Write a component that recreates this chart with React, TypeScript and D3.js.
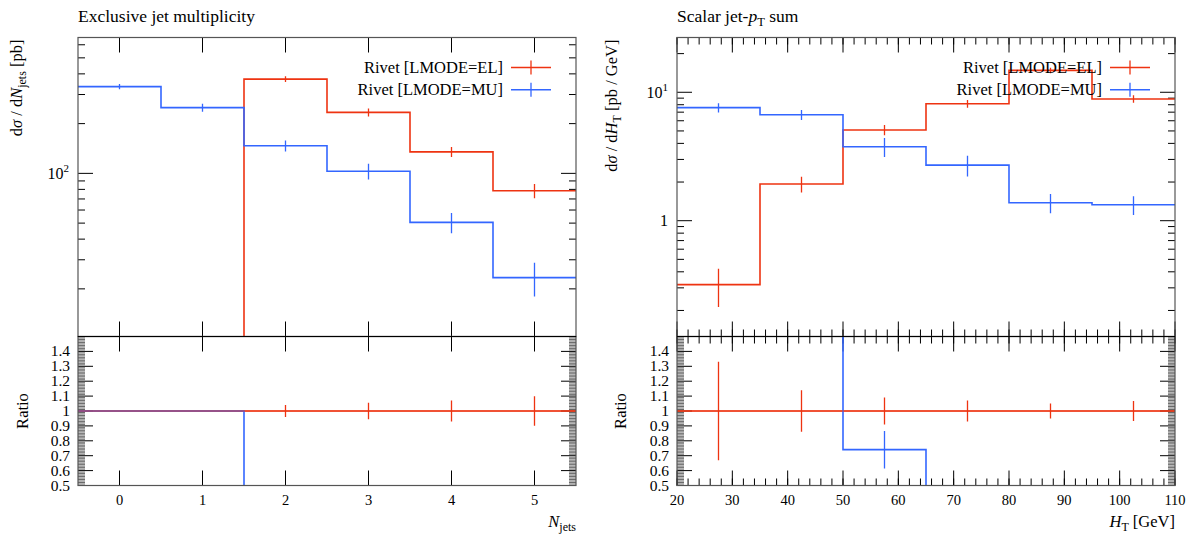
import * as d3 from "d3";

const RED = "#ee3311";
const BLUE = "#3366ff";
const FONT = "'Liberation Serif', 'Times New Roman', serif";

// Exclusive jet multiplicity
const njetsEdges = [-0.5, 0.5, 1.5, 2.5, 3.5, 4.5, 5.5];
const njetsTicks = [0, 1, 2, 3, 4, 5];
const njetsEL = [0, 0, 372, 234, 135, 78.5];
const njetsELErr = [0, 0, 15, 13, 9.5, 7.8];
const njetsMU = [335, 250, 147, 103, 50.5, 23.4];
const njetsMUErr = [12, 14, 11.3, 11.3, 7.1, 5.4];
const njetsYDomain = [10.3, 664];
const njetsYLabels = [{ value: 100, base: "10", exp: "2" }];

// Scalar jet-pT sum
const htEdges = [20, 35, 50, 65, 80, 95, 110];
const htTicks = [20, 30, 40, 50, 60, 70, 80, 90, 100, 110];
const htEL = [0.318, 1.93, 5.09, 8.15, 14.8, 8.87];
const htELErr = [0.105, 0.27, 0.46, 0.57, 0.74, 0.59];
const htMU = [7.59, 6.69, 3.77, 2.71, 1.38, 1.33];
const htMUErr = [0.64, 0.6, 0.64, 0.5, 0.235, 0.22];
const htYDomain = [0.1254, 26.7];
const htYLabels = [
  { value: 1, base: "1", exp: "" },
  { value: 10, base: "10", exp: "1" },
];

const ratioLabels = [0.5, 0.6, 0.7, 0.8, 0.9, 1, 1.1, 1.2, 1.3, 1.4];
const legendNames = ["Rivet [LMODE=EL]", "Rivet [LMODE=MU]"];

const TOP = 37.5;
const MAIN_H = 299;
const RATIO_H = 149;
const W = 498;
const MAJOR = 15;
const MINOR = 7;

function stepPath(edges, vals, yf) {
  const pts = vals.flatMap((v, i) => [
    [edges[i], yf(v)],
    [edges[i + 1], yf(v)],
  ]);
  return pts;
}

function Panel({ id, left, title, edges, xTicks, xMinor, el, elErr, mu, muErr, yDomain, yLabels, xLabel, yLabel, yLabelX, ratioLabelX }) {
  const x = d3.scaleLinear().domain([edges[0], edges[edges.length - 1]]).range([0, W]);
  const y = d3.scaleLog().domain(yDomain).range([MAIN_H, 0]);
  const r = d3.scaleLinear().domain([0.5, 1.5]).range([RATIO_H, 0]);
  const clampM = (v) => (v > 0 ? Math.max(-20, Math.min(MAIN_H + 20, y(v))) : MAIN_H + 20);
  const clampR = (v) => Math.max(-20, Math.min(RATIO_H + 20, r(v)));
  const line = d3.line();
  const centers = edges.slice(0, -1).map((e, i) => (e + edges[i + 1]) / 2);

  const toPx = (pts) => pts.map(([a, b]) => [x(a), b]);

  const rEL = el.map(() => 1);
  const rELErr = el.map((v, i) => (v > 0 ? elErr[i] / v : 0));
  const rMU = mu.map((v, i) => (el[i] > 0 ? v / el[i] : 1));
  const rMUErr = mu.map((v, i) => (el[i] > 0 ? muErr[i] / el[i] : 0));

  const yTicks = y.ticks();
  const ratioTicks = d3.range(0, 101).map((k) => ({ v: 0.5 + k * 0.01, major: k % 10 === 0 }));

  const xTickMarks = (h) => (
    <>
      {xMinor.map((t) => (
        <g key={`mn-${t}`}>
          <line x1={x(t)} x2={x(t)} y1={0} y2={MINOR} stroke="#000" />
          <line x1={x(t)} x2={x(t)} y1={h} y2={h - MINOR} stroke="#000" />
        </g>
      ))}
      {xTicks.map((t) => (
        <g key={`mj-${t}`}>
          <line x1={x(t)} x2={x(t)} y1={0} y2={MAJOR} stroke="#000" />
          <line x1={x(t)} x2={x(t)} y1={h} y2={h - MAJOR} stroke="#000" />
        </g>
      ))}
    </>
  );

  const errBars = (vals, errs, yf, color, key) =>
    vals.map((v, i) =>
      errs[i] > 0 && v > 0 ? (
        <line
          key={`${key}-${i}`}
          x1={x(centers[i])}
          x2={x(centers[i])}
          y1={yf(v - errs[i])}
          y2={yf(v + errs[i])}
          stroke={color}
          strokeWidth={1.3}
        />
      ) : null
    );

  return (
    <g transform={`translate(${left},0)`} fontFamily={FONT}>
      <text x={0} y={22} fontSize={17.5}>{title}</text>
      <defs>
        <clipPath id={`${id}-main`}>
          <rect x={0} y={0} width={W} height={MAIN_H} />
        </clipPath>
        <clipPath id={`${id}-ratio`}>
          <rect x={0} y={0} width={W} height={RATIO_H} />
        </clipPath>
      </defs>

      {/* main panel */}
      <g transform={`translate(0,${TOP})`}>
        {xTickMarks(MAIN_H)}
        {yTicks.map((t) => {
          const major = Math.abs(Math.log10(t) - Math.round(Math.log10(t))) < 1e-6;
          const len = major ? MAJOR : MINOR;
          return (
            <g key={`yt-${t}`}>
              <line x1={0} x2={len} y1={y(t)} y2={y(t)} stroke="#000" />
              <line x1={W} x2={W - len} y1={y(t)} y2={y(t)} stroke="#000" />
            </g>
          );
        })}
        {yLabels.map((l) => (
          <text key={`yl-${l.value}`} x={-9} y={y(l.value) + 5.5} textAnchor="end" fontSize={16}>
            {l.base}
            {l.exp ? (
              <tspan dy={-7} fontSize={11}>{l.exp}</tspan>
            ) : null}
          </text>
        ))}
        <g clipPath={`url(#${id}-main)`} fill="none">
          <path d={line(toPx(stepPath(edges, el, clampM)))} stroke={RED} strokeWidth={1.6} />
          {errBars(el, elErr, (v) => (v > 0 ? y(v) : MAIN_H + 20), RED, "ee")}
          <path d={line(toPx(stepPath(edges, mu, clampM)))} stroke={BLUE} strokeWidth={1.6} />
          {errBars(mu, muErr, (v) => (v > 0 ? y(v) : MAIN_H + 20), BLUE, "me")}
        </g>
        {/* legend */}
        {legendNames.map((name, i) => {
          const ly = 30 + i * 22.3;
          const c = i === 0 ? RED : BLUE;
          return (
            <g key={name}>
              <text x={W - 73} y={ly + 5.5} textAnchor="end" fontSize={16.5}>{name}</text>
              <line x1={W - 65} x2={W - 25} y1={ly} y2={ly} stroke={c} strokeWidth={1.6} />
              <line x1={W - 45} x2={W - 45} y1={ly - 7} y2={ly + 7} stroke={c} strokeWidth={1.3} />
            </g>
          );
        })}
        <rect x={0} y={0} width={W} height={MAIN_H} fill="none" stroke="#555" strokeWidth={1.2} />
        <text transform={`translate(${yLabelX},2) rotate(-90)`} textAnchor="end" fontSize={16.5}>
          {yLabel}
        </text>
      </g>

      {/* ratio panel */}
      <g transform={`translate(0,${TOP + MAIN_H})`}>
        {xTickMarks(RATIO_H)}
        {ratioTicks.map((t) => {
          const len = t.major ? MAJOR : MINOR;
          return (
            <g key={`rt-${t.v.toFixed(2)}`}>
              <line x1={0} x2={len} y1={r(t.v)} y2={r(t.v)} stroke="#000" strokeWidth={t.major ? 1 : 0.6} />
              <line x1={W} x2={W - len} y1={r(t.v)} y2={r(t.v)} stroke="#000" strokeWidth={t.major ? 1 : 0.6} />
            </g>
          );
        })}
        {ratioLabels.map((v) => (
          <text key={`rl-${v}`} x={-8} y={r(v) + 5} textAnchor="end" fontSize={15.5}>
            {String(v)}
          </text>
        ))}
        <g clipPath={`url(#${id}-ratio)`} fill="none">
          <path d={line(toPx(stepPath(edges, rEL, clampR)))} stroke={RED} strokeWidth={1.6} />
          {errBars(rEL, rELErr, r, RED, "re")}
          <path d={line(toPx(stepPath(edges, rMU, clampR)))} stroke={BLUE} strokeWidth={1.6} />
          {errBars(rMU, rMUErr, r, BLUE, "rm")}
          <path d={line(toPx(stepPath(edges, rEL, clampR)))} stroke={RED} strokeWidth={1.6} strokeOpacity={0.5} />
        </g>
        <rect x={0} y={0} width={W} height={RATIO_H} fill="none" stroke="#555" strokeWidth={1.2} />
        <line x1={0} x2={W} y1={0} y2={0} stroke="#000" strokeWidth={1.2} />
        <text transform={`translate(${ratioLabelX},${r(1)}) rotate(-90)`} textAnchor="middle" fontSize={16.5}>
          Ratio
        </text>
        {xTicks.map((t) => (
          <text key={`xl-${t}`} x={x(t)} y={RATIO_H + 19} textAnchor="middle" fontSize={14.5}>
            {t}
          </text>
        ))}
        <text x={W} y={RATIO_H + 41} textAnchor="end" fontSize={16.5}>
          {xLabel}
        </text>
      </g>
    </g>
  );
}

export default function App() {
  return (
    <svg width={1195} height={534} style={{ position: "absolute", left: 0, top: 0, background: "#fff" }}>
      <Panel
        id="njets"
        left={78}
        title="Exclusive jet multiplicity"
        edges={njetsEdges}
        xTicks={njetsTicks}
        xMinor={[]}
        el={njetsEL}
        elErr={njetsELErr}
        mu={njetsMU}
        muErr={njetsMUErr}
        yDomain={njetsYDomain}
        yLabels={njetsYLabels}
        yLabelX={-56}
        ratioLabelX={-50}
        yLabel={
          <>
            d<tspan fontStyle="italic">σ</tspan> / d<tspan fontStyle="italic">N</tspan>
            <tspan fontSize={12} dy={4}>jets</tspan>
            <tspan dy={-4}> [pb]</tspan>
          </>
        }
        xLabel={
          <>
            <tspan fontStyle="italic">N</tspan>
            <tspan fontSize={12} dy={4}>jets</tspan>
          </>
        }
      />
      <Panel
        id="ht"
        left={677}
        title={
          <>
            Scalar jet-<tspan fontStyle="italic">p</tspan>
            <tspan fontSize={12.5} dy={4}>T</tspan>
            <tspan dy={-4}> sum</tspan>
          </>
        }
        edges={htEdges}
        xTicks={htTicks}
        xMinor={d3.range(20, 111, 2)}
        el={htEL}
        elErr={htELErr}
        mu={htMU}
        muErr={htMUErr}
        yDomain={htYDomain}
        yLabels={htYLabels}
        yLabelX={-60}
        ratioLabelX={-51}
        yLabel={
          <>
            d<tspan fontStyle="italic">σ</tspan> / d<tspan fontStyle="italic">H</tspan>
            <tspan fontSize={12} dy={4}>T</tspan>
            <tspan dy={-4}> [pb / GeV]</tspan>
          </>
        }
        xLabel={
          <>
            <tspan fontStyle="italic">H</tspan>
            <tspan fontSize={12} dy={4}>T</tspan>
            <tspan dy={-4}> [GeV]</tspan>
          </>
        }
      />
    </svg>
  );
}
